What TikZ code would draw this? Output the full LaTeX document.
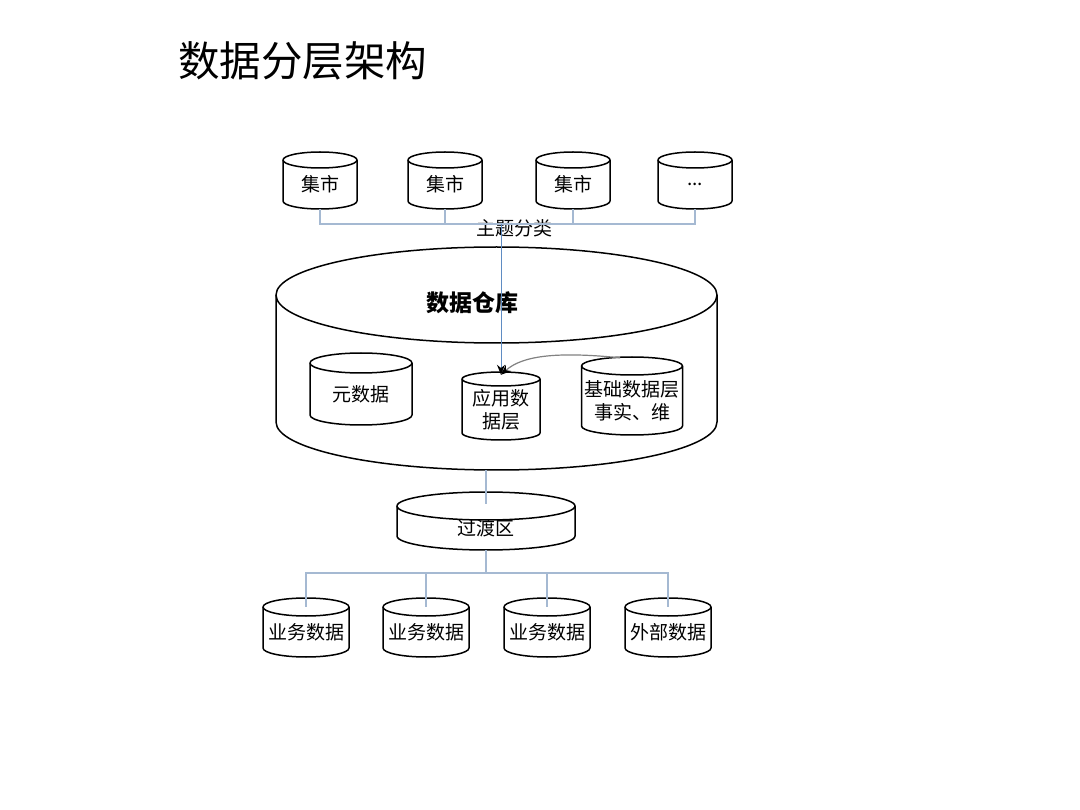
\documentclass[tikz,border=0pt]{standalone}
\usepackage{fontspec}
\setmainfont{Noto Sans CJK SC}
\usetikzlibrary{calc,arrows.meta}
\definecolor{linkblue}{RGB}{165,185,210}
\definecolor{mainblue}{RGB}{95,140,195}
\definecolor{curvegray}{RGB}{130,130,130}
\tikzset{
  dbline/.style={line width=1.5pt,black},
  dbbox/.style={inner sep=0pt},
  dbtext/.style={inner sep=0pt,align=center,font=\fontsize{19}{23}\selectfont},
  link/.style={linkblue,line width=1.2pt},
}
% name, x, y, width, height, cap radius, text
\newcommand{\dbnode}[7]{%
  \pgfmathsetmacro{\cylL}{#2-#4/2}
  \pgfmathsetmacro{\cylR}{#2+#4/2}
  \pgfmathsetmacro{\cylT}{#3-#5/2+#6}
  \pgfmathsetmacro{\cylB}{#3+#5/2-#6}
  \pgfmathsetmacro{\cylRx}{#4/2}
  \draw[dbline,fill=white] (\cylL,\cylT) -- (\cylL,\cylB)
    arc[start angle=180,end angle=360,x radius=\cylRx pt,y radius=#6pt]
    -- (\cylR,\cylT)
    arc[start angle=0,end angle=180,x radius=\cylRx pt,y radius=#6pt] -- cycle;
  \draw[dbline] (\cylL,\cylT) arc[start angle=180,end angle=360,x radius=\cylRx pt,y radius=#6pt];
  \node[dbbox,minimum width=#4pt,minimum height=#5pt] (#1) at (#2,#3) {};
  \node[dbtext] (#1-t) at ([yshift=-#6pt/2]#1.center) {#7};
}

\begin{document}
\begin{tikzpicture}[x=1pt,y=-1pt]
\useasboundingbox[fill=white] (0,0) rectangle (1080,810);
\node[anchor=west,inner sep=0pt,font=\fontsize{41.5}{46}\selectfont] (title) at (178,61) {数据分层架构};
% marts
\dbnode{m1}{320}{180.5}{74}{57}{8}{集市}
\dbnode{m2}{445}{180.5}{74}{57}{8}{集市}
\dbnode{m3}{573}{180.5}{74}{57}{8}{集市}
\dbnode{m4}{695}{180.5}{74}{57}{8}{...}
\coordinate (topbus) at (501,224);
\node[dbtext] (theme) at (514,228) {主题分类};
% warehouse
\dbnode{dw}{496.5}{358.5}{441}{223}{48}{}
\node[font=\bfseries\fontsize{23}{27}\selectfont,inner sep=0pt] (dwlabel) at (472,303) {数据仓库};
\dbnode{meta}{361}{389}{102}{72}{10}{元数据}
\dbnode{app}{501}{406}{78}{68}{7}{应用数\\据层}
\dbnode{base}{632}{396}{101}{78}{9}{基础数据层\\事实、维}
% staging
\dbnode{trans}{486}{521}{178}{58}{14}{过渡区}
\coordinate (botbus) at (486,573);
% sources
\dbnode{s1}{306}{627.5}{86}{59}{9}{业务数据}
\dbnode{s2}{426}{627.5}{86}{59}{9}{业务数据}
\dbnode{s3}{547}{627.5}{86}{59}{9}{业务数据}
\dbnode{s4}{668}{627.5}{86}{59}{9}{外部数据}
% lines
\draw[link] (m1.south) |- (topbus);
\draw[link] (m2.south) |- (topbus);
\draw[link] (m3.south) |- (topbus);
\draw[link] (m4.south) |- (topbus);
\draw[mainblue,line width=1pt,-{Stealth[length=10pt,width=8pt,black]}] (topbus) -- ([yshift=-3pt]app.north);
\draw[curvegray,line width=1.2pt,-{Stealth[length=10pt,width=8pt,black]}] ($(base.north)+(-12,1)$)
  .. controls +(-60,-6) and +(22,-20) .. ([yshift=-3pt]app.north);
\draw[link] (trans.north |- dw.south) -- ($(trans.north)+(0,12)$);
\draw[link] (trans.south) -- (botbus);
\draw[link] ($(s1.north)+(0,9)$) |- (botbus);
\draw[link] ($(s2.north)+(0,9)$) |- (botbus);
\draw[link] ($(s3.north)+(0,9)$) |- (botbus);
\draw[link] ($(s4.north)+(0,9)$) |- (botbus);
\end{tikzpicture}
\end{document}
